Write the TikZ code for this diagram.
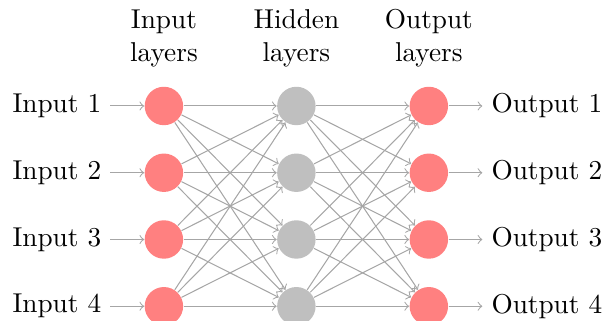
\documentclass[tikz,border=0pt]{standalone}
\usetikzlibrary{positioning}

\begin{document}
\begin{tikzpicture}[node distance=25.7pt, font=\fontsize{10.5pt}{12.6pt}\selectfont]
        \tikzstyle{neuron}=[circle,minimum size=14.8pt,inner sep=0pt]
        \tikzstyle{input neuron}=[neuron,fill=red!50]
        \tikzstyle{hidden neuron}=[neuron,fill=gray!50]
        \tikzstyle{output neuron}=[neuron,fill=red!50]
        \tikzstyle{link}=[->,draw=gray!70]
        \tikzstyle{heading}=[align=center]

        \useasboundingbox (-63.1pt,-82.4pt) rectangle (170.2pt,40.8pt);

        % input layer
        \node[input neuron] (in1) {};
        \node[input neuron, below of=in1] (in2) {};
        \node[input neuron, below of=in2] (in3) {};
        \node[input neuron, below of=in3] (in4) {};

        % hidden layer
        \node[hidden neuron, right of=in1, node distance=51pt] (hid1) {};
        \node[hidden neuron, below of=hid1] (hid2) {};
        \node[hidden neuron, below of=hid2] (hid3) {};
        \node[hidden neuron, below of=hid3] (hid4) {};

        % output layer
        \node[output neuron, right of=hid1, node distance=51pt] (out1) {};
        \node[output neuron, below of=out1] (out2) {};
        \node[output neuron, below of=out2] (out3) {};
        \node[output neuron, below of=out3] (out4) {};

        % headings
        \node[heading, above=4pt of in1] (head-in) {Input\\layers};
        \node[heading, above=4pt of hid1] (head-hid) {Hidden\\layers};
        \node[heading, above=4pt of out1] (head-out) {Output\\layers};

        \foreach \i in {1,...,4} {
            \node[left=13pt of in\i] (x\i) {Input \i};
            \node[right=13pt of out\i] (y\i) {Output \i};
            \draw[link] (x\i) -- (in\i);
            \draw[link] (out\i) -- (y\i);
        }

        \foreach \i in {1,...,4}
            \foreach \j in {1,...,4} {
                \draw[link] (in\i) -- (hid\j);
                \draw[link] (hid\i) -- (out\j);
            }
    \end{tikzpicture}
\end{document}
